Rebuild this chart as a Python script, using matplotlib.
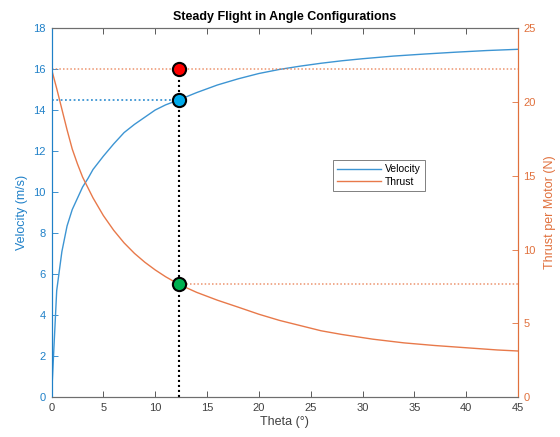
import matplotlib
matplotlib.use("Agg")
import matplotlib.pyplot as plt

plt.rcParams['font.family'] = ['Liberation Sans', 'DejaVu Sans']

# Velocity curve (m/s) vs theta (deg)
theta_v = [0, 0.5, 1, 1.5, 2, 2.5, 3, 3.5, 4, 5, 6, 7, 8, 9, 10, 11, 12.3,
           14, 16, 18, 20, 22, 24, 26, 28, 30, 33, 36, 39, 42, 45]
velocity = [0, 5.2, 7.1, 8.35, 9.15, 9.7, 10.25, 10.65, 11.1, 11.75, 12.35,
            12.9, 13.3, 13.65, 14.0, 14.25, 14.5, 14.85, 15.22, 15.52, 15.78,
            15.98, 16.14, 16.28, 16.4, 16.5, 16.63, 16.73, 16.82, 16.9, 16.96]

# Thrust per motor curve (N) vs theta (deg)
theta_t = [0, 0.5, 1, 1.5, 2, 2.5, 3, 3.5, 4, 5, 6, 7, 8, 9, 10, 11, 12.3,
           14, 16, 18, 20, 22, 24, 26, 28, 31, 34, 37, 40, 43, 45]
thrust = [22.22, 20.9, 19.5, 18.1, 16.8, 15.8, 14.9, 14.2, 13.5, 12.3, 11.3,
          10.45, 9.74, 9.14, 8.62, 8.16, 7.64, 7.1, 6.57, 6.1, 5.62, 5.2,
          4.85, 4.5, 4.25, 3.93, 3.68, 3.5, 3.35, 3.2, 3.13]

# Operating point
theta_op = 12.3
v_op = 14.5
t_op = 7.64
t_hover = 22.22     # thrust at theta = 0 (right axis)
red_left = 16.0     # red marker level on velocity axis
green_left = 5.5    # green marker level on velocity axis

x_ticks = [0, 5, 10, 15, 20, 25, 30, 35, 40, 45]
v_ticks = [0, 2, 4, 6, 8, 10, 12, 14, 16, 18]
t_ticks = [0, 5, 10, 15, 20, 25]

blue = '#1f80c8'
blue_line = '#3d95d3'
orange = '#e0703c'
orange_line = '#e8794a'
grey = '#404040'

fig = plt.figure(figsize=(5.6, 4.37), dpi=100)
ax = fig.add_axes([0.092, 0.091, 0.833, 0.845])
ax2 = ax.twinx()

ax.set_xlim(0, 45)
ax.set_ylim(0, 18)
ax2.set_ylim(0, 25)

ln1, = ax.plot(theta_v, velocity, color=blue_line, lw=1.0, label='Velocity')
ln2, = ax2.plot(theta_t, thrust, color=orange_line, lw=1.0, label='Thrust')

dot = (0, (1, 1.4))
# dotted guide lines
ax2.plot([0, 45], [t_hover, t_hover], color=orange_line, lw=1.1, ls=dot, alpha=0.8)
ax.plot([0, theta_op], [v_op, v_op], color=blue_line, lw=1.3, ls=dot)
ax2.plot([theta_op, 45], [t_op, t_op], color=orange_line, lw=1.1, ls=dot, alpha=0.8)
ax2.plot([theta_op, theta_op], [0, red_left], color='black', lw=1.5, ls=dot,
         transform=ax.transData)

# markers
ax2.plot([theta_op], [red_left], 'o', ms=9.5, mfc='#ff0000', mec='black', mew=1.5,
         transform=ax.transData, zorder=5)
ax2.plot([theta_op], [v_op], 'o', ms=9.5, mfc='#00aaea', mec='black', mew=1.5,
         transform=ax.transData, zorder=5)
ax2.plot([theta_op], [green_left], 'o', ms=9.5, mfc='#00b050', mec='black', mew=1.5,
         transform=ax.transData, zorder=5)

ax.set_xticks(x_ticks)
ax.set_yticks(v_ticks)
ax2.set_yticks(t_ticks)

ax.tick_params(axis='x', direction='in', length=4, width=0.6, colors=grey,
               labelsize=8, top=True, pad=4)
ax.tick_params(axis='y', direction='in', length=4, width=0.6, colors=blue,
               labelsize=8, pad=4)
ax2.tick_params(axis='y', direction='in', length=4, width=0.6, colors=orange,
                labelsize=8, pad=4)

for a in (ax, ax2):
    a.spines['top'].set_color('#6e6e6e')
    a.spines['bottom'].set_color('#6e6e6e')
    a.spines['left'].set_color(blue)
    a.spines['right'].set_color(orange)
    for s in a.spines.values():
        s.set_linewidth(0.8)

ax.set_xlabel('Theta (°)', fontsize=9, color=grey, labelpad=2)
ax.set_ylabel('Velocity (m/s)', fontsize=9, color=blue, labelpad=4)
ax2.set_ylabel('Thrust per Motor (N)', fontsize=9, color=orange, labelpad=6)
ax.set_title('Steady Flight in Angle Configurations', fontsize=9, fontweight='bold',
             color='black', pad=6)

leg = ax2.legend(handles=[ln1, ln2], loc='upper left', bbox_to_anchor=(0.603, 0.642),
                 fontsize=7.5, frameon=True, fancybox=False, framealpha=1,
                 edgecolor='#808080', handlelength=4.2, handletextpad=0.4,
                 borderpad=0.4, labelspacing=0.25, borderaxespad=0)
leg.get_frame().set_linewidth(0.7)

fig.savefig('out.png', dpi=100)
